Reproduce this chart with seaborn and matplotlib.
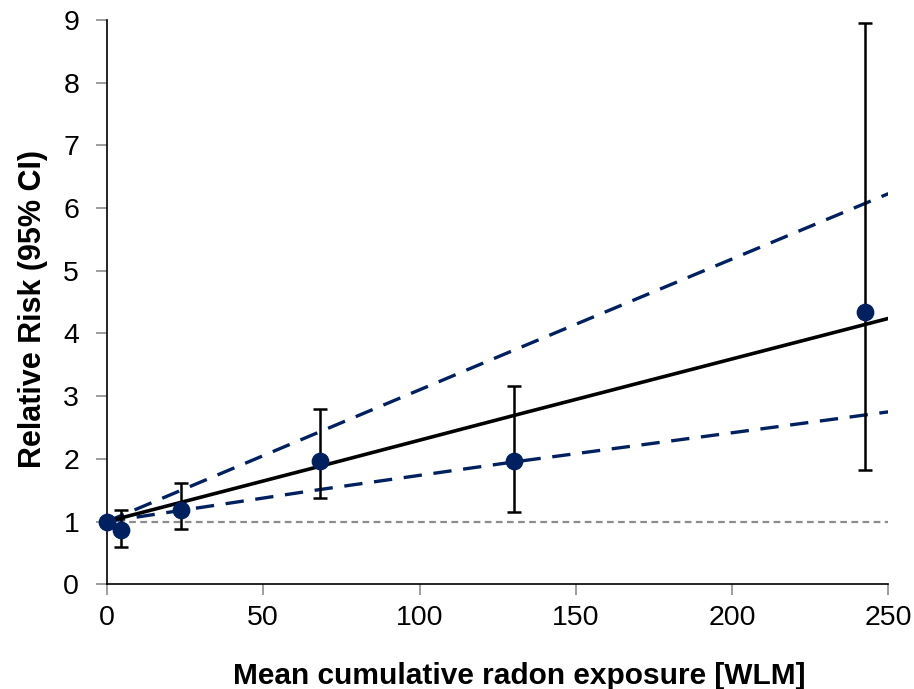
import numpy as np
import pandas as pd
import matplotlib
matplotlib.use("Agg")
import matplotlib.pyplot as plt
import seaborn as sns

# datos
exposicion = [0.0, 4.5, 23.7, 68.2, 130.3, 242.6]
rr = [1.0, 0.86, 1.18, 1.97, 1.96, 4.35]
ic_bajo = [np.nan, 0.60, 0.88, 1.37, 1.16, 1.82]
ic_alto = [np.nan, 1.18, 1.61, 2.80, 3.17, 8.95]

# lineas del modelo
x_modelo = [0, 68, 130, 250]
y_modelo = [1.0, 1.88, 2.69, 4.24]
y_sup = [1.0, 2.43, 3.73, 6.23]
y_inf = [1.0, 1.51, 1.95, 2.75]

sns.set_style("ticks")
plt.rcParams['font.family'] = ['Liberation Sans', 'DejaVu Sans']
plt.rcParams['text.color'] = 'black'
plt.rcParams['axes.labelcolor'] = 'black'

azul = '#002060'

fig = plt.figure(figsize=(9.14, 6.89), dpi=100)
ax = fig.add_axes([0.117, 0.152, 0.855, 0.819])

# linea de referencia RR = 1
ax.axhline(1, color='#8c8c8c', lw=1.6, ls=(0, (3, 2)), zorder=1)

df_mod = pd.DataFrame({'x': x_modelo, 'y': y_modelo, 'sup': y_sup, 'inf': y_inf})
sns.lineplot(data=df_mod, x='x', y='y', color='black', lw=2.6, ax=ax, zorder=3)
sns.lineplot(data=df_mod, x='x', y='sup', color=azul, lw=2.4, ax=ax, zorder=2)
sns.lineplot(data=df_mod, x='x', y='inf', color=azul, lw=2.4, ax=ax, zorder=2)
for ln in ax.lines[-2:]:
    ln.set_linestyle((0, (5.5, 3.5)))

# barras de error
e = np.array(exposicion)
r = np.array(rr)
yerr = np.vstack([r - np.array(ic_bajo), np.array(ic_alto) - r])
ax.errorbar(e, r, yerr=yerr, fmt='none', ecolor='black', elinewidth=1.8,
            capsize=5, capthick=1.8, zorder=4)

df_pts = pd.DataFrame({'x': exposicion, 'rr': rr})
sns.scatterplot(data=df_pts, x='x', y='rr', color=azul, s=140, edgecolor=azul,
                ax=ax, zorder=5, clip_on=False)

ax.set_xlim(0, 250)
ax.set_ylim(0, 9)
ax.set_xticks(range(0, 251, 50))
ax.set_yticks(range(0, 10))
ax.tick_params(axis='both', colors='#8c8c8c', length=8, width=1.2,
               labelcolor='black', labelsize=20.5)
ax.tick_params(axis='x', pad=7)
ax.tick_params(axis='y', pad=12)
for s in ['left', 'bottom']:
    ax.spines[s].set_color('black')
    ax.spines[s].set_linewidth(1.2)
sns.despine(ax=ax)

ax.set_xlabel('Mean cumulative radon exposure [WLM]', fontsize=21.5,
              fontweight='bold')
ax.set_ylabel('Relative Risk (95% CI)', fontsize=22, fontweight='bold')
ax.xaxis.set_label_coords(0.527, -0.138)
ax.yaxis.set_label_coords(-0.075, 0.487)

fig.savefig('out.png', dpi=100)
